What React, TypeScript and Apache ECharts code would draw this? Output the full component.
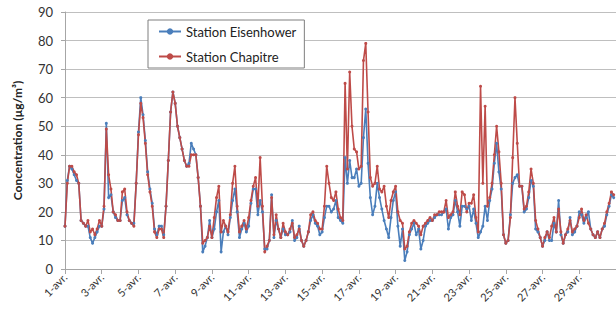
import React, { useEffect, useRef } from "react";
import * as echarts from "echarts";

// x-axis tick labels (every 2 days)
const dayLabels = [
  "1-avr.", "3-avr.", "5-avr.", "7-avr.", "9-avr.", "11-avr.", "13-avr.", "15-avr.",
  "17-avr.", "19-avr.", "21-avr.", "23-avr.", "25-avr.", "27-avr.", "29-avr.",
];
const seriesNames = ["Station Eisenhower", "Station Chapitre"];
const stepsPerDay = 8; // 3-hourly readings
const yTitle = "Concentration (µg/m³)";

// Station Eisenhower, 3-hourly, 1-avr. 00h -> 30-avr. 21h
const eisenhower = [
  15, 31, 36, 35, 33, 31, 30, 17,
  16, 15, 15, 11, 9, 11, 13, 15,
  15, 21, 51, 25, 26, 20, 18, 17,
  17, 24, 25, 19, 17, 16, 16, 30,
  48, 60, 54, 45, 34, 28, 23, 14,
  12, 15, 15, 12, 22, 38, 55, 62,
  58, 50, 46, 42, 38, 36, 37, 44,
  42, 40, 32, 22, 6, 8, 11, 17,
  11, 14, 20, 24, 6, 13, 15, 12,
  18, 24, 28, 20, 11, 14, 16, 13,
  15, 23, 28, 28, 19, 24, 20, 7,
  7, 10, 26, 11, 17, 14, 11, 14,
  12, 12, 13, 17, 10, 11, 15, 10,
  8, 10, 13, 17, 19, 16, 15, 12,
  13, 18, 22, 22, 20, 21, 24, 18,
  17, 16, 39, 30, 38, 32, 32, 35,
  29, 30, 46, 56, 37, 25, 19, 22,
  30, 25, 21, 17, 14, 11, 18, 24,
  27, 15, 8, 14, 3, 6, 12, 14,
  16, 12, 14, 7, 10, 15, 16, 17,
  17, 18, 19, 19, 19, 20, 21, 14,
  18, 19, 24, 20, 15, 22, 22, 21,
  22, 17, 21, 16, 11, 13, 15, 22,
  17, 24, 28, 37, 44, 34, 28, 12,
  9, 10, 19, 30, 32, 33, 29, 29,
  20, 21, 25, 31, 29, 14, 13, 11,
  8, 10, 13, 10, 10, 16, 13, 24,
  12, 9, 12, 13, 18, 12, 13, 15,
  20, 19, 16, 18, 20, 14, 12, 11,
  13, 11, 14, 15, 19, 22, 26, 25,
];

// Station Chapitre, 3-hourly
const chapitre = [
  15, 30, 36, 36, 34, 33, 30, 17,
  16, 15, 17, 13, 14, 12, 14, 17,
  15, 22, 49, 33, 28, 20, 19, 17,
  17, 27, 28, 20, 17, 16, 15, 30,
  47, 58, 53, 44, 33, 27, 22, 13,
  11, 14, 14, 11, 22, 38, 55, 62,
  58, 50, 46, 42, 38, 36, 36, 40,
  40, 40, 32, 22, 9, 10, 11, 15,
  11, 18, 25, 29, 13, 17, 15, 13,
  19, 30, 36, 22, 13, 15, 17, 14,
  18, 24, 29, 32, 22, 39, 22, 6,
  8, 10, 25, 12, 19, 14, 11, 16,
  13, 12, 14, 16, 11, 12, 14, 10,
  8, 10, 13, 19, 20, 17, 16, 14,
  14, 22, 36, 30, 25, 24, 27, 21,
  18, 17, 65, 35, 69, 50, 42, 41,
  35, 36, 73, 79, 55, 32, 29, 30,
  36, 28, 27, 29, 22, 18, 24, 27,
  29, 20, 17, 16, 7, 8, 13, 16,
  17, 16, 15, 12, 15, 16, 17, 18,
  17, 19, 19, 20, 20, 20, 24, 18,
  19, 20, 27, 22, 19, 27, 26, 20,
  23, 23, 26, 18, 13, 64, 30, 57,
  22, 25, 30, 40, 50, 41, 30, 12,
  9, 10, 18, 39, 60, 44, 29, 29,
  21, 22, 27, 35, 30, 17, 14, 11,
  8, 11, 13, 11, 15, 18, 13, 21,
  13, 9, 12, 14, 17, 13, 14, 15,
  18, 21, 17, 19, 16, 14, 12, 11,
  13, 11, 14, 16, 20, 23, 27, 26,
];

const FONT = "Lato, 'Open Sans', sans-serif";

export default function App() {
  const ref = useRef<HTMLDivElement>(null);

  useEffect(() => {
    document.body.style.margin = "0";
    if (!ref.current) return;
    const chart = echarts.init(ref.current, undefined, { renderer: "svg" });
    const toPairs = (arr: number[]) => arr.map((v, i) => [i / stepsPerDay, v]);
    chart.setOption({
      animation: false,
      backgroundColor: "#ffffff",
      textStyle: { fontFamily: FONT },
      grid: { left: 65, right: 0, top: 12, bottom: 46, containLabel: false },
      legend: {
        orient: "vertical",
        left: 148,
        top: 20,
        padding: [5, 8, 5, 10],
        itemGap: 12,
        itemWidth: 22,
        itemHeight: 8,
        backgroundColor: "#ffffff",
        borderColor: "#7f7f7f",
        borderWidth: 1,
        textStyle: { fontFamily: FONT, fontSize: 13, color: "#222" },
        data: seriesNames,
      },
      xAxis: {
        type: "value",
        min: 0,
        max: 30,
        interval: 2,
        axisLine: { show: true, lineStyle: { color: "#a6a6a6", width: 1 } },
        axisTick: { show: true, length: 5, lineStyle: { color: "#a6a6a6" } },
        splitLine: { show: false },
        axisLabel: {
          rotate: 45,
          fontSize: 11,
          color: "#333",
          fontFamily: FONT,
          margin: 6,
          showMaxLabel: false,
          formatter: (v: number) => dayLabels[Math.round(v / 2)] ?? "",
        },
      },
      yAxis: {
        type: "value",
        min: 0,
        max: 90,
        interval: 10,
        name: yTitle,
        nameLocation: "middle",
        nameRotate: 90,
        nameGap: 42,
        nameTextStyle: { fontFamily: FONT, fontSize: 12, fontWeight: "bold", color: "#222" },
        axisLine: { show: true, lineStyle: { color: "#a6a6a6", width: 1 } },
        axisTick: { show: true, length: 4, lineStyle: { color: "#a6a6a6" } },
        splitLine: { show: true, lineStyle: { color: "#bfbfbf", width: 1 } },
        axisLabel: { fontSize: 13, color: "#333", fontFamily: FONT, margin: 12 },
      },
      series: [
        {
          name: seriesNames[0],
          type: "line",
          data: toPairs(eisenhower),
          symbol: "circle",
          symbolSize: 3,
          showSymbol: true,
          lineStyle: { color: "#4a7ebb", width: 1.6 },
          itemStyle: { color: "#4a7ebb" },
        },
        {
          name: seriesNames[1],
          type: "line",
          data: toPairs(chapitre),
          symbol: "circle",
          symbolSize: 3,
          showSymbol: true,
          lineStyle: { color: "#be4b48", width: 1.6 },
          itemStyle: { color: "#be4b48" },
        },
      ],
    });
    return () => chart.dispose();
  }, []);

  return <div ref={ref} style={{ width: 616, height: 315 }} />;
}
